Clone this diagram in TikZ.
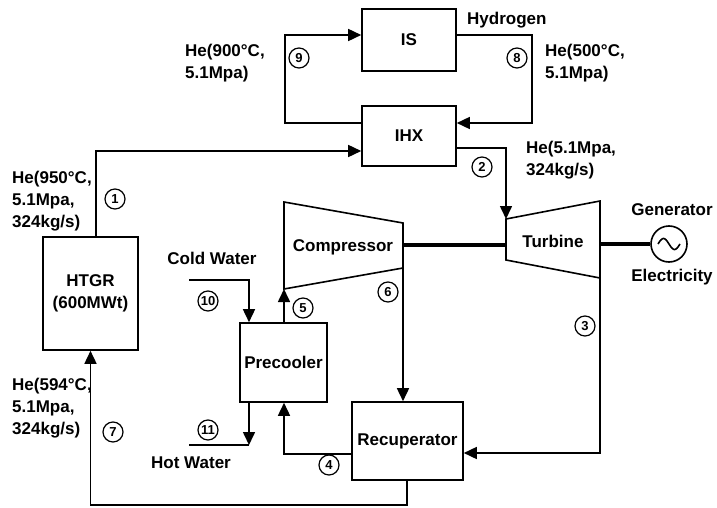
\documentclass[tikz,border=0pt]{standalone}
\usepackage{fontspec}
\setmainfont{Liberation Sans}
\usetikzlibrary{
	arrows.meta,
	calc,
	positioning
}

\begin{document}
\begin{tikzpicture}[x=1pt, y=-1pt,
		box/.style={draw, rectangle, line width=1.6pt, inner sep=0pt},
		pipe/.style={line width=1.6pt},
		flow/.style={line width=1.6pt, -{Triangle[length=13pt, width=12pt]}},
		shaft/.style={line width=3.8pt},
		lbl/.style={inner sep=0pt, font=\bfseries\fontsize{17}{22}\selectfont},
		num/.style={draw, circle, line width=1.2pt, inner sep=0pt, minimum size=20pt, font=\bfseries\fontsize{13}{14}\selectfont}]
		\useasboundingbox (0,0) rectangle (717,508);
		% 设备
		\node[box, lbl, minimum width=94pt, minimum height=62pt] (is) at (409,40) {IS};
		\node[box, lbl, minimum width=94pt, minimum height=60pt] (ihx) at (409,136) {IHX};
		\node[box, lbl, align=center, minimum width=95pt, minimum height=113pt] (htgr) at (90.5,293.5) {HTGR\\(600MWt)};
		\node[box, lbl, minimum width=87pt, minimum height=79pt] (pre) at (283.5,362.5) {Precooler};
		\node[box, lbl, minimum width=111pt, minimum height=78pt] (rec) at (407.5,441) {Recuperator};
		\draw[pipe] (284,202) -- (403,223) -- (403,268) coordinate (cout) -- (284,289) coordinate (cin) -- cycle;
		\node[lbl] (comp) at (343,247) {Compressor};
		\draw[pipe] (506,219) coordinate (tin) -- (600,201) -- (600,278) coordinate (tout) -- (506,260) -- cycle;
		\node[lbl] (turb) at (553,241) {Turbine};
		\node[draw, circle, line width=1.6pt, minimum size=36pt] (gen) at (669,244) {};
		\draw[line width=1.6pt, domain=-11:11, smooth, variable=\t] plot ({669+\t}, {244+5.5*sin(\t*180/11)});
		% 轴
		\coordinate (cs) at (403,245);
		\coordinate (ts) at (506,245);
		\coordinate (tg) at (600,244);
		\draw[shaft] (cs) -- (ts);
		\draw[shaft] (tg) -- (gen.west);
		% 管路
		\coordinate (c1) at (96,151);
		\draw[flow] (htgr.north -| c1) |- (ihx.west |- c1);
		\coordinate (c2) at (506,148);
		\draw[flow] (ihx.east |- c2) -| (tin);
		\coordinate (c3) at (600,453);
		\draw[flow] (tout) -- (c3) -- (rec.east |- c3);
		\coordinate (c4) at (284,454);
		\draw[flow] (rec.west |- c4) -- (c4) -- (pre.south -| c4);
		\draw[flow] (pre.north -| cin) -- (cin);
		\draw[flow] (cout) -- (rec.north -| cout);
		\coordinate (c7) at (407,505);
		\draw[flow] (rec.south -| c7) -- (c7) -| (htgr.south);
		\coordinate (c8) at (532,35);
		\coordinate (c8b) at (532,123);
		\draw[flow] (is.east |- c8) -- (c8) -- (c8b) -- (ihx.east |- c8b);
		\coordinate (c9) at (285,123);
		\coordinate (c9t) at (285,35);
		\draw[flow] (ihx.west |- c9) -- (c9) -- (c9t) -- (is.west |- c9t);
		\coordinate (cw) at (189,280);
		\coordinate (c10) at (249,280);
		\draw[flow] (cw) -- (c10) -- (pre.north -| c10);
		\coordinate (c11) at (249,445);
		\coordinate (hw) at (189,445);
		\draw[flow] (pre.south -| c11) -- (c11);
		\draw[pipe] (c11) -- (hw);
		% 状态点
		\node[num] (n1) at (115,199) {1};
		\node[num] (n2) at (482,167) {2};
		\node[num] (n3) at (585,326) {3};
		\node[num] (n4) at (329,465) {4};
		\node[num] (n5) at (303,308) {5};
		\node[num] (n6) at (388,292) {6};
		\node[num] (n7) at (113,432) {7};
		\node[num] (n8) at (517,58) {8};
		\node[num] (n9) at (299,58) {9};
		\node[num] (n10) at (208,301) {10};
		\node[num] (n11) at (208,430) {11};
		% 文字
		\node[lbl, align=left, anchor=north west] (he1) at (12,171) {He(950°C,\\5.1Mpa,\\324kg/s)};
		\node[lbl, align=left, anchor=north west] (he7) at (12,378) {He(594°C,\\5.1Mpa,\\324kg/s)};
		\node[lbl, align=left, anchor=north west] (he9) at (185,44) {He(900°C,\\5.1Mpa)};
		\node[lbl, align=left, anchor=north west] (he8) at (545,44) {He(500°C,\\5.1Mpa)};
		\node[lbl, align=left, anchor=north west] (he2) at (526,141) {He(5.1Mpa,\\324kg/s)};
		\node[lbl, anchor=west] (h2) at (467,20) {Hydrogen};
		\node[lbl] (cold) at (212,258) {Cold Water};
		\node[lbl] (hot) at (191,463) {Hot Water};
		\node[lbl] (genl) at (672,210) {Generator};
		\node[lbl] (elec) at (672,277) {Electricity};
	\end{tikzpicture}
\end{document}
